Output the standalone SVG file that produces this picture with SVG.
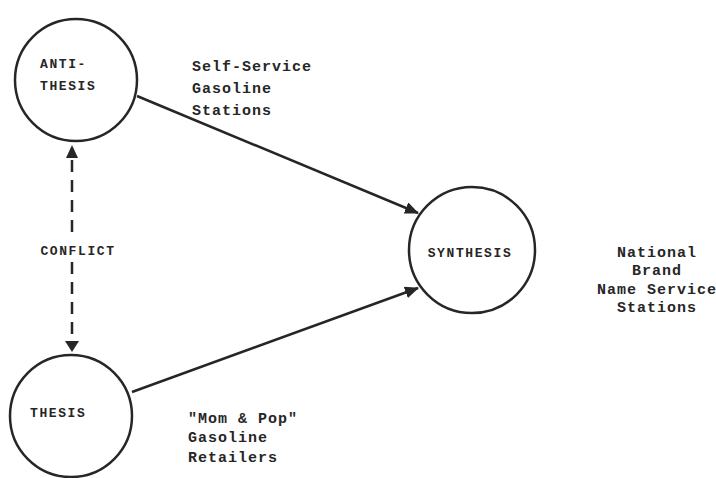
<svg xmlns="http://www.w3.org/2000/svg" width="716" height="478" viewBox="0 0 716 478">
  <style>
    .node { fill: #fff; stroke: #262626; stroke-width: 2.5; }
    .edge { fill: none; stroke: #262626; stroke-width: 2.5; }
    .dash { stroke-dasharray: 12 8; }
    .lbl { font-family: "Liberation Mono", "DejaVu Sans Mono", monospace; font-weight: bold; fill: #262626; }
    .in { font-size: 13px; letter-spacing: 1.6px; }
    .note { font-size: 15px; letter-spacing: 1px; }
  </style>
  <defs>
    <marker id="arrow" markerWidth="14" markerHeight="12" refX="13" refY="6" orient="auto" markerUnits="userSpaceOnUse">
      <path d="M0,0 L14,6 L0,12 z" fill="#262626"/>
    </marker>
  </defs>
  <rect width="716" height="478" fill="#fff"/>

  <!-- connectors -->
  <g id="connectors">
    <line class="edge" x1="137" y1="96" x2="418" y2="213" marker-end="url(#arrow)"/>
    <line class="edge" x1="132" y1="392" x2="418" y2="288" marker-end="url(#arrow)"/>
    <line class="edge dash" x1="72" y1="160" x2="72" y2="240"/>
    <line class="edge dash" x1="72" y1="262" x2="72" y2="340"/>
    <path d="M72,145 L66,158 L78,158 z" fill="#262626"/>
    <path d="M72,352 L65,341 L79,341 z" fill="#262626"/>
    <text class="lbl in" x="78" y="255" text-anchor="middle">CONFLICT</text>
  </g>

  <!-- nodes -->
  <g id="antithesis">
    <circle class="node" cx="76" cy="80" r="61"/>
    <text class="lbl in" x="40" y="68">ANTI-</text>
    <text class="lbl in" x="40" y="90">THESIS</text>
  </g>
  <g id="thesis">
    <circle class="node" cx="71" cy="416" r="61"/>
    <text class="lbl in" x="30" y="417">THESIS</text>
  </g>
  <g id="synthesis">
    <circle class="node" cx="472" cy="250" r="63"/>
    <text class="lbl in" x="470" y="257" text-anchor="middle">SYNTHESIS</text>
  </g>

  <!-- annotations -->
  <g id="notes">
    <text class="lbl note" x="192" y="71">Self-Service</text>
    <text class="lbl note" x="192" y="93">Gasoline</text>
    <text class="lbl note" x="192" y="115">Stations</text>

    <text class="lbl note" x="188" y="423">"Mom &amp; Pop"</text>
    <text class="lbl note" x="188" y="442">Gasoline</text>
    <text class="lbl note" x="188" y="462">Retailers</text>

    <text class="lbl note" x="657" y="257" text-anchor="middle">National</text>
    <text class="lbl note" x="657" y="275" text-anchor="middle">Brand</text>
    <text class="lbl note" x="657" y="294" text-anchor="middle">Name Service</text>
    <text class="lbl note" x="657" y="312" text-anchor="middle">Stations</text>
  </g>
</svg>
